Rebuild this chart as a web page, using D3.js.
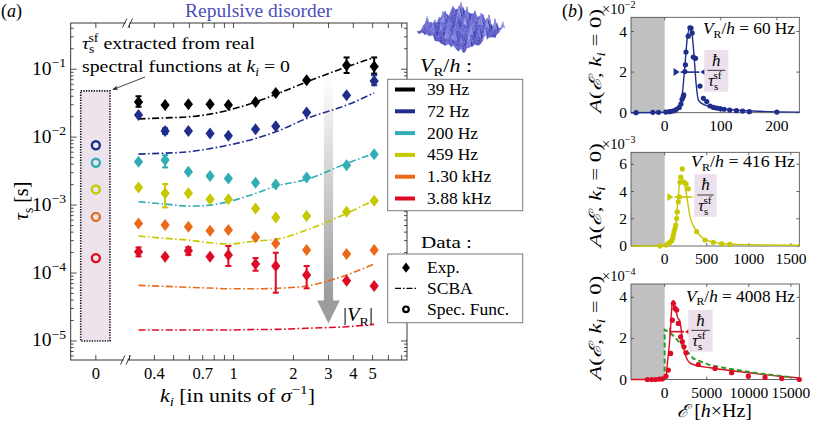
<!DOCTYPE html>
<html><head><meta charset="utf-8">
<script src="https://cdn.jsdelivr.net/npm/d3@7"></script>
<style>
html,body{margin:0;padding:0;background:#fff;}
svg{display:block;font-family:"Liberation Serif","DejaVu Serif",serif;}
</style></head><body>
<svg id="fig" width="814" height="424"></svg>
<script>
/* panel (a): scattering time vs k_i for six disorder strengths */
const kVals = [0.333, 0.453, 0.593, 0.762, 0.942, 1.29, 1.63, 2.33, 3.70, 5.09];
const vrLabels = ["39 Hz", "72 Hz", "200 Hz", "459 Hz", "1.30 kHz", "3.88 kHz"];
const vrColors = ["#000000", "#1f2e8c", "#33adb5", "#c6c800", "#ea6a1a", "#de0b24"];

const expTau39  = [0.033, 0.0296, 0.0305, 0.0305, 0.0296, 0.033, 0.0448, 0.069, 0.114, 0.110];
const expTau72  = [0.0211, 0.0123, 0.0123, 0.0113, 0.0105, 0.0131, 0.0145, 0.0231, 0.0415, 0.0673];
const expTau200 = [4.33e-3, 4.59e-3, 3.09e-3, 2.67e-3, 2.47e-3, 2.13e-3, 2.01e-3, 2.55e-3, 3.87e-3, 5.62e-3];
const expTau459 = [1.82e-3, 1.49e-3, 1.49e-3, 1.22e-3, 1.22e-3, 8.93e-4, 6.59e-4, 6.89e-4, 7.96e-4, 1.16e-3];
const expTau1300 = [5.38e-4, 5.08e-4, 4.8e-4, 4.19e-4, 4.29e-4, 3.35e-4, 2.73e-4, 2.18e-4, 1.9e-4, 2.18e-4];
const expTau3880 = [2.06e-4, 1.74e-4, 2.13e-4, 1.74e-4, 1.84e-4, 1.36e-4, 1.27e-4, 9.35e-5, 7.71e-5, 6.44e-5];

// error bars [low, high], null where hidden by the marker
const expErr39  = [[0.028, 0.040], null, null, null, null, null, null, null, [0.088, 0.149], [0.086, 0.149]];
const expErr72  = [null, [0.0112, 0.0135], null, null, null, null, null, null, null, [0.0582, 0.0816]];
const expErr200 = [null, [3.58e-3, 5.43e-3], null, null, null, null, null, null, null, null];
const expErr459 = [null, [9.25e-4, 2.04e-3], null, null, null, null, null, null, null, null];
const expErr1300 = [null, null, null, null, null, null, null, null, null, null];
const expErr3880 = [[1.76e-4, 2.38e-4], null, [1.85e-4, 2.4e-4], null, [1.27e-4, 2.5e-4], [1.08e-4, 1.66e-4], [5.13e-5, 1.99e-4], [5.96e-5, 1.27e-4], null, null];

const scbaTau39  = [0.0186, 0.0192, 0.0199, 0.0218, 0.0249, 0.0330, 0.0425, 0.0650, 0.108, 0.149];
const scbaTau72  = [5.62e-3, 5.82e-3, 6.08e-3, 6.78e-3, 7.62e-3, 9.57e-3, 0.01197, 0.01884, 0.0296, 0.0448];
const scbaTau200 = [1.12e-3, 1.035e-3, 9.66e-4, 1.0e-3, 1.12e-3, 1.486e-3, 1.90e-3, 2.39e-3, 4.10e-3, 5.75e-3];
const scbaTau459 = [3.5e-4, 3.24e-4, 3.05e-4, 2.79e-4, 2.67e-4, 2.96e-4, 3.13e-4, 4.29e-4, 7.55e-4, 1.186e-3];
const scbaTau1300 = [6.59e-5, 6.37e-5, 6.16e-5, 6.01e-5, 5.87e-5, 5.87e-5, 5.96e-5, 6.44e-5, 9.35e-5, 1.355e-4];
const scbaTau3880 = [1.45e-5, 1.45e-5, 1.45e-5, 1.45e-5, 1.45e-5, 1.476e-5, 1.48e-5, 1.54e-5, 1.62e-5, 1.76e-5];

// tau_s^sf from the spectral functions at k_i = 0
const specTau = [null, 7.6e-3, 4.2e-3, 1.7e-3, 6.7e-4, 1.66e-4];

const yTicksA = [1e-5, 1e-4, 1e-3, 1e-2, 1e-1];
const xTicksA = [0.3, 0.4, 0.5, 0.6, 0.7, 0.8, 0.9, 1, 2, 3, 4, 5, 6, 7];
const xTickLabelsA = [0.4, 0.7, 1, 2, 3, 4, 5];

/* panel (b): spectral functions A(E, k_i=0) */
const b1CurveE = [-60, 0, 21, 30, 36, 40, 44, 48, 52, 56, 60, 66, 81, 110, 170, 240];
const b1CurveA = [0, 0.02, 0.13, 0.63, 2.28, 3.6, 4.13, 4.0, 2.94, 1.45, 0.63, 0.46, 0.3, 0.17, 0.07, 0.03];
const b1DotE = [-51, -21, -11, 2, 8, 12, 17, 21, 26, 29, 31, 33, 34, 36, 37, 38, 42, 45, 47, 49, 51, 55, 63, 69, 75, 81, 87, 93, 99, 106, 116, 128, 139, 151, 200];
const b1DotA = [0, 0.02, 0.02, 0.03, 0.05, 0.07, 0.1, 0.17, 0.26, 0.43, 0.66, 0.79, 0.88, 2.03, 2.36, 2.99, 3.77, 4.18, 4.17, 3.93, 2.74, 2.68, 1.31, 0.71, 0.55, 0.33, 0.26, 0.23, 0.2, 0.17, 0.13, 0.1, 0.08, 0.05, 0.03];

const b2CurveE = [-400, -55, 44, 83, 123, 150, 174, 194, 222, 254, 301, 360, 459, 658, 1133, 1600];
const b2CurveA = [0, 0, 0.07, 0.37, 1.05, 2.76, 4.46, 5.15, 4.83, 3.98, 2.15, 1.29, 0.56, 0.2, 0.07, 0.05];
const b2DotE = [-55, 16, 44, 63, 83, 95, 103, 111, 123, 131, 143, 150, 162, 174, 182, 190, 210, 230, 254, 281, 380, 479, 578, 677, 776];
const b2DotA = [0, 0.07, 0.2, 0.27, 0.37, 0.56, 0.8, 1.05, 1.29, 1.54, 2.02, 2.5, 3.24, 3.6, 4.68, 5.05, 5.66, 4.68, 4.56, 4.2, 1.05, 0.44, 0.27, 0.15, 0.12];

const b3CurveE = [-4000, -160, 160, 240, 634, 911, 1030, 1228, 1505, 1822, 2218, 2614, 3010, 3406, 5387, 7368, 11329, 16000];
const b3CurveA = [0, 0, 0.13, 0.46, 2.08, 3.74, 3.85, 3.58, 3.06, 2.81, 1.59, 1.02, 0.81, 0.73, 0.57, 0.46, 0.26, 0.07];
const b3DotE = [-2060, -1545, -1070, -634, -277, 159, 436, 713, 911, 1030, 1228, 1426, 1624, 1901, 2099, 2297, 2535, 4000, 5981, 7962, 9943, 11924, 13905, 16000];
const b3DotA = [0, 0, 0, 0.02, 0.03, 0.16, 0.46, 1.27, 2.89, 3.71, 3.46, 3.38, 2.73, 2.08, 1.84, 1.59, 1.3, 0.73, 0.54, 0.33, 0.16, 0.1, 0.05, 0];
const b3ScbaE = [0, 0, 600, 1230, 2218, 3406, 5387, 7368, 11329, 15291];
const b3ScbaA = [0, 2.42, 2.3, 2.05, 1.59, 1.02, 0.7, 0.54, 0.29, 0.1];

const svg = d3.select("#fig");

// text with italic / sub / sup pieces: [text, kind, dx]
function rich(sel, parts, size) {
  let shift = 0;
  parts.forEach(([t, k, dx]) => {
    const ts = sel.append("tspan").text(t);
    let target = 0, fs = size;
    if (k.includes("sub")) { target = size * 0.24; fs = size * 0.68; }
    if (k.includes("sup")) { target = -size * 0.42; fs = size * 0.7; }
    if (k.startsWith("i")) ts.attr("font-style", "italic");
    ts.attr("font-size", fs).attr("dy", target - shift);
    if (dx) ts.attr("dx", dx);
    shift = target;
  });
  return sel;
}
// stretch a text to the width seen in the reference (its font is wider)
const fit = (sel, w) => sel.attr("textLength", w).attr("lengthAdjust", "spacingAndGlyphs");
const tauSf = (s) => [["τ", "i"], ["s", "sub"], ["sf", "sup", -s * 0.3]];

/* ---------------- panel (a) ---------------- */
const A = { l: 70.7, r: 407, t: 23, b: 360 };
const y = d3.scaleLog().domain([10 ** -5.28, 10 ** -0.32]).range([A.b, A.t]);
const xk = d3.scaleLog().domain([0.3, 7.4]).range([129.5, 406.5]);
const x0 = d3.scalePoint().domain(["0"]).range([A.l, 121]).padding(0.5);

svg.append("text").attr("x", 1).attr("y", 17).attr("font-size", 18)
  .call(s => rich(s, [["(", ""], ["a", "i"], [")", ""]], 18));
svg.append("text").attr("x", 185).attr("y", 17).attr("font-size", 18).attr("fill", "#4b50b8")
  .text("Repulsive disorder").call(fit, 147);

const gA = svg.append("g");

// pink box for spectral-function values
gA.append("rect").attr("x", 80.7).attr("width", 29.3)
  .attr("y", y(0.048)).attr("height", y(1e-5) - y(0.048))
  .attr("fill", "#ede3ed").attr("stroke", "#111").attr("stroke-width", 1.6)
  .attr("stroke-dasharray", "1.3,1.3");

// grey arrow |V_R|
const defs = svg.append("defs");
const gr = defs.append("linearGradient").attr("id", "garr").attr("x1", 0).attr("x2", 0).attr("y1", 0).attr("y2", 1);
gr.append("stop").attr("offset", 0).attr("stop-color", "#fff");
gr.append("stop").attr("offset", 1).attr("stop-color", "#9a9a9a");
const ax = xk(3);
gA.append("rect").attr("x", ax - 4.6).attr("width", 9.2).attr("y", 77).attr("height", 224)
  .attr("fill", "url(#garr)");
gA.append("path").attr("d", `M${ax - 11.3},300.5 L${ax + 11.3},300.5 L${ax},323.5Z`).attr("fill", "#9c9c9c");
gA.append("text").attr("x", 343).attr("y", 321).attr("font-size", 19)
  .call(s => rich(s, [["|", ""], ["V", "i"], ["R", "sub"], ["|", ""]], 19)).call(fit, 30);

// frame
gA.append("rect").attr("x", A.l).attr("y", A.t).attr("width", A.r - A.l).attr("height", A.b - A.t)
  .attr("fill", "none").attr("stroke", "#222").attr("stroke-width", 0.9);

// y ticks (log, inward, both sides)
const minorY = [];
yTicksA.forEach(d => { for (let m = 2; m <= 9; m++) minorY.push(d * m); });
minorY.push(6e-6, 7e-6, 8e-6, 9e-6);
const yTickSel = gA.append("g").attr("stroke", "#222").attr("stroke-width", 0.8);
yTicksA.forEach(d => {
  yTickSel.append("line").attr("x1", A.l).attr("x2", A.l + 6).attr("y1", y(d)).attr("y2", y(d));
  yTickSel.append("line").attr("x1", A.r).attr("x2", A.r - 6).attr("y1", y(d)).attr("y2", y(d));
});
minorY.filter(d => y(d) > A.t && y(d) < A.b).forEach(d => {
  yTickSel.append("line").attr("x1", A.l).attr("x2", A.l + 3).attr("y1", y(d)).attr("y2", y(d));
  yTickSel.append("line").attr("x1", A.r).attr("x2", A.r - 3).attr("y1", y(d)).attr("y2", y(d));
});
yTicksA.forEach(d => {
  const e = Math.round(Math.log10(d));
  gA.append("text").attr("x", 32).attr("y", y(d) + 5.5).attr("font-size", 18)
    .call(s => rich(s, [["10", ""], ["−" + (-e), "sup"]], 18)).call(fit, 34);
});

// x ticks
const xtPos = xTicksA.map(k => xk(k)).concat([x0("0")]);
xtPos.forEach(px => {
  yTickSel.append("line").attr("x1", px).attr("x2", px).attr("y1", A.b).attr("y2", A.b - 5);
  yTickSel.append("line").attr("x1", px).attr("x2", px).attr("y1", A.t).attr("y2", A.t + 5);
});
xTickLabelsA.forEach(k => {
  gA.append("text").attr("x", xk(k)).attr("y", 379).attr("text-anchor", "middle").attr("font-size", 16.5).text(k);
});
gA.append("text").attr("x", x0("0")).attr("y", 379).attr("text-anchor", "middle").attr("font-size", 16.5).text("0");

// axis break marks
[[A.t, 127.5], [A.b, 125.5]].forEach(([yy, xc]) => {
  gA.append("rect").attr("x", xc - 2).attr("y", yy - 1.5).attr("width", 4).attr("height", 3).attr("fill", "#fff");
  [-2.8, 2.8].forEach(o => gA.append("line")
    .attr("x1", xc + o - 2.2).attr("y1", yy + 4.5).attr("x2", xc + o + 2.2).attr("y2", yy - 4.5)
    .attr("stroke", "#222").attr("stroke-width", 0.9));
});

// axis labels
svg.append("text").attr("transform", "translate(28,201) rotate(-90)").attr("text-anchor", "middle")
  .attr("font-size", 20).call(s => rich(s, [["τ", "i"], ["s", "sub"], [" [s]", ""]], 20));
svg.append("text").attr("x", 160).attr("y", 402).attr("font-size", 18)
  .call(s => rich(s, [["k", "i"], ["i", "isub"], [" [in units of ", ""], ["σ", "i"], ["−1", "sup"], ["]", ""]], 18))
  .call(fit, 155);

// SCBA curves
const series = [
  [expTau39, expErr39, scbaTau39], [expTau72, expErr72, scbaTau72], [expTau200, expErr200, scbaTau200],
  [expTau459, expErr459, scbaTau459], [expTau1300, expErr1300, scbaTau1300], [expTau3880, expErr3880, scbaTau3880]
];
const lineA = d3.line().x(d => xk(d[0])).y(d => y(d[1])).curve(d3.curveMonotoneX);
series.forEach(([, , sc], i) => {
  gA.append("path").attr("d", lineA(kVals.map((k, j) => [k, sc[j]])))
    .attr("fill", "none").attr("stroke", vrColors[i]).attr("stroke-width", 1.6)
    .attr("stroke-dasharray", "7,2.5,1.6,2.5");
});

// experimental points with error bars
const diamond = "M0,-6 L4.6,0 L0,6 L-4.6,0Z";
series.forEach(([ex, er], i) => {
  const g = gA.append("g").attr("fill", vrColors[i]).attr("stroke", vrColors[i]);
  ex.forEach((v, j) => {
    const px = xk(kVals[j]);
    if (er[j]) {
      const [lo, hi] = er[j];
      g.append("line").attr("x1", px).attr("x2", px).attr("y1", y(lo)).attr("y2", y(hi)).attr("stroke-width", 2);
      [lo, hi].forEach(t => g.append("line").attr("x1", px - 3).attr("x2", px + 3)
        .attr("y1", y(t)).attr("y2", y(t)).attr("stroke-width", 2));
    }
    g.append("path").attr("d", diamond).attr("transform", `translate(${px},${y(v)})`).attr("stroke", "none");
  });
});

// spectral function circles at k_i = 0
specTau.forEach((v, i) => {
  if (v == null) return;
  gA.append("circle").attr("cx", x0("0")).attr("cy", y(v)).attr("r", 4)
    .attr("fill", "none").attr("stroke", vrColors[i]).attr("stroke-width", 2.4);
});

// annotation
defs.append("marker").attr("id", "ah").attr("viewBox", "0 0 10 10").attr("refX", 9).attr("refY", 5)
  .attr("markerWidth", 7).attr("markerHeight", 7).attr("orient", "auto")
  .append("path").attr("d", "M0,1 L10,5 L0,9 L3,5Z").attr("fill", "#111");
gA.append("line").attr("x1", 145).attr("y1", 77).attr("x2", 113).attr("y2", 89.5)
  .attr("stroke", "#111").attr("stroke-width", 0.8).attr("marker-end", "url(#ah)");
gA.append("text").attr("x", 82).attr("y", 49).attr("font-size", 17.5)
  .call(s => rich(s, [...tauSf(17.5), [" extracted from real", "", 0]], 17.5)).call(fit, 173);
gA.append("text").attr("x", 82).attr("y", 71.5).attr("font-size", 17.5)
  .call(s => rich(s, [["spectral functions at ", ""], ["k", "i"], ["i", "isub"], [" = 0", ""]], 17.5)).call(fit, 208);

// surface picture (decorative)
(function surface() {
  const g = svg.append("g");
  const N = 22, sx = 44 / N, sy = 22 / N, cx = 461, cy = 11;
  const h = (i, j) => {
    const v = 2.2 + 1.6 * Math.sin(i * 1.9 + j * 0.7) * Math.cos(j * 2.3 - i * 0.4)
      + 1.4 * Math.sin(i * 0.55 + 1.3) * Math.sin(j * 0.8 + 0.4)
      + 3.2 * Math.max(0, Math.sin(i * 3.1 + j * 2.7) * Math.sin(i * 1.3 - j * 2.1) - 0.5) * 6;
    return Math.max(0, v);
  };
  const P = (i, j) => [cx + (i - j) * sx, cy + (i + j) * sy - h(i, j) * 1.2];
  const col = d3.scaleLinear().domain([0, 3, 9]).range(["#3d3daa", "#5c5ccc", "#a4a4ec"]);
  for (let s = 0; s <= 2 * (N - 1); s++) {
    for (let i = 0; i < N; i++) {
      const j = s - i;
      if (j < 0 || j >= N) continue;
      const pts = [P(i, j), P(i + 1, j), P(i + 1, j + 1), P(i, j + 1)];
      const hh = (h(i, j) + h(i + 1, j + 1)) / 2;
      g.append("path").attr("d", "M" + pts.join("L") + "Z").attr("fill", col(hh + (h(i + 1, j) - h(i, j + 1)) * 0.4))
        .attr("stroke", col(hh)).attr("stroke-width", 0.2);
    }
  }
})();

// legends
const L = svg.append("g");
L.append("text").attr("x", 420).attr("y", 72).attr("font-size", 18)
  .call(s => rich(s, [["V", "i"], ["R", "sub"], ["/", ""], ["h", "i"], [" :", ""]], 18)).call(fit, 52);
L.append("rect").attr("x", 387.7).attr("y", 79.3).attr("width", 135).attr("height", 131.4)
  .attr("fill", "#fff").attr("stroke", "#777").attr("stroke-width", 1);
vrLabels.forEach((lab, i) => {
  const yy = 89.5 + i * 21.8;
  L.append("line").attr("x1", 395).attr("x2", 415).attr("y1", yy).attr("y2", yy)
    .attr("stroke", vrColors[i]).attr("stroke-width", 4);
  L.append("text").attr("x", 427).attr("y", yy + 5.5).attr("font-size", 17.5).text(lab);
});
L.append("text").attr("x", 421).attr("y", 248).attr("font-size", 17.5).text("Data :").call(fit, 51);
L.append("rect").attr("x", 387.7).attr("y", 254).attr("width", 135).attr("height", 68.7)
  .attr("fill", "#fff").attr("stroke", "#777").attr("stroke-width", 1);
L.append("path").attr("d", diamond).attr("transform", "translate(406,267.7) scale(0.85)").attr("fill", "#000");
L.append("line").attr("x1", 395).attr("x2", 416).attr("y1", 288.3).attr("y2", 288.3)
  .attr("stroke", "#000").attr("stroke-width", 1.3).attr("stroke-dasharray", "6,2,1.5,2");
L.append("circle").attr("cx", 406).attr("cy", 309.3).attr("r", 2.8).attr("fill", "none")
  .attr("stroke", "#000").attr("stroke-width", 2.2);
["Exp.", "SCBA", "Spec. Func."].forEach((t, i) => {
  L.append("text").attr("x", 427).attr("y", 273 + i * 20.8).attr("font-size", 17.5).text(t);
});

/* ---------------- panel (b) ---------------- */
svg.append("text").attr("x", 562).attr("y", 17).attr("font-size", 18)
  .call(s => rich(s, [["(", ""], ["b", "i"], [")", ""]], 18));

const subs = [
  { top: 17.3, bot: 112.7, xd: [-60, 240], yd: [0, 4.7], xt: [0, 100, 200], yt: [0, 2, 4], exp: "−2",
    color: "#1f2e8c", ce: b1CurveE, ca: b1CurveA, de: b1DotE, da: b1DotA, vr: "60", vrW: 92, vrY: 17,
    err: [2.0, 28.5, 61.8, true], box: [704.3, 50, 24, 41.7] },
  { top: 152.3, bot: 246, xd: [-400, 1600], yd: [0, 6.88], xt: [0, 500, 1000, 1500], yt: [0, 2, 4, 6], exp: "−3",
    color: "#c6c800", ce: b2CurveE, ca: b2CurveA, de: b2DotE, da: b2DotA, vr: "416", vrW: 104, vrY: 14.5,
    err: [3.6, 115, 329, true], box: [694.3, 174.3, 22.4, 42.4] },
  { top: 284, bot: 379.5, xd: [-4000, 16000], yd: [0, 4.65], xt: [0, 5000, 10000, 15000], yt: [0, 2, 4], exp: "−4",
    color: "#de0b24", ce: b3CurveE, ca: b3CurveA, de: b3DotE, da: b3DotA, vr: "4008", vrW: 109, vrY: 17.5,
    err: [2.33, 634, 2297, false], box: [688.3, 310, 24.4, 41.7], scba: [b3ScbaE, b3ScbaA] }
];
const BL = 631, BR = 799.3;
subs.forEach(c => {
  const g = svg.append("g");
  const x = d3.scaleLinear().domain(c.xd).range([BL, BR]);
  const yy = d3.scaleLinear().domain(c.yd).range([c.bot, c.top]);
  g.append("rect").attr("x", BL).attr("y", c.top).attr("width", x(0) - BL).attr("height", c.bot - c.top).attr("fill", "#c0c0c0");
  g.append("rect").attr("x", BL).attr("y", c.top).attr("width", BR - BL).attr("height", c.bot - c.top)
    .attr("fill", "none").attr("stroke", "#444").attr("stroke-width", 0.8);
  const tk = g.append("g").attr("stroke", "#444").attr("stroke-width", 0.8);
  c.xt.forEach(v => {
    tk.append("line").attr("x1", x(v)).attr("x2", x(v)).attr("y1", c.bot).attr("y2", c.bot - 3);
    tk.append("line").attr("x1", x(v)).attr("x2", x(v)).attr("y1", c.top).attr("y2", c.top + 3);
    g.append("text").attr("x", x(v)).attr("y", c.bot + 18).attr("text-anchor", "middle").attr("font-size", 15.5).text(v);
  });
  c.yt.forEach(v => {
    tk.append("line").attr("x1", BL).attr("x2", BL + 3).attr("y1", yy(v)).attr("y2", yy(v));
    tk.append("line").attr("x1", BR).attr("x2", BR - 3).attr("y1", yy(v)).attr("y2", yy(v));
    g.append("text").attr("x", 627).attr("y", yy(v) + 5).attr("text-anchor", "end").attr("font-size", 15.5).text(v);
  });
  g.append("text").attr("x", 602).attr("y", c.top - 3).attr("font-size", 14.5)
    .call(s => rich(s, [["×10", ""], [c.exp, "sup"]], 14.5));
  g.append("text").attr("transform", `translate(601,${(c.top + c.bot) / 2 + 48}) rotate(-90)`)
    .attr("font-size", 17)
    .call(s => rich(s, [["A", "i"], ["(", ""], ["ℰ", "i"], [", ", ""], ["k", "i"], ["i", "isub"], [" = 0)", ""]], 17))
    .call(fit, 104);
  g.append("text").attr("x", 795 - c.vrW).attr("y", c.top + c.vrY).attr("font-size", 16.5)
    .call(s => rich(s, [["V", "i"], ["R", "sub"], ["/", ""], ["h", "i"], [" = " + c.vr + " Hz", ""]], 16.5))
    .call(fit, c.vrW);

  const pts = c.ce.map((e, i) => [x(e), yy(c.ca[i])]);
  g.append("path").attr("d", d3.line().curve(d3.curveMonotoneX)(pts))
    .attr("fill", "none").attr("stroke", c.color).attr("stroke-width", 1.4);
  if (c.scba) {
    const sp = c.scba[0].map((e, i) => [x(e), yy(c.scba[1][i])]);
    g.append("path").attr("d", d3.line()(sp)).attr("fill", "none").attr("stroke", "#2e9a2e")
      .attr("stroke-width", 2).attr("stroke-dasharray", "5,3");
  }
  c.de.forEach((e, i) => g.append("circle").attr("cx", x(e)).attr("cy", yy(c.da[i])).attr("r", 2.6).attr("fill", c.color));

  // width bar hbar/tau
  const [ea, e0, e1, both] = c.err;
  const ey = yy(ea);
  g.append("line").attr("x1", x(e0)).attr("x2", x(e1)).attr("y1", ey).attr("y2", ey)
    .attr("stroke", c.color).attr("stroke-width", 1.6);
  g.append("path").attr("d", `M${x(e1) + 1},${ey} l6,-4 l0,8Z`).attr("fill", c.color);
  if (both) g.append("path").attr("d", `M${x(e0) - 1},${ey} l-6,-4 l0,8Z`).attr("fill", c.color);
  else g.append("line").attr("x1", x(e0)).attr("x2", x(e0)).attr("y1", ey - 4).attr("y2", ey + 4).attr("stroke", c.color).attr("stroke-width", 1.2);

  const [bx, by, bw, bh] = c.box;
  g.append("rect").attr("x", bx).attr("y", by).attr("width", bw).attr("height", bh).attr("fill", "#ece0ec");
  g.append("text").attr("x", bx + bw / 2).attr("y", by + 15.5).attr("text-anchor", "middle").attr("font-size", 17)
    .attr("font-style", "italic").text("ħ");
  g.append("line").attr("x1", bx + 3).attr("x2", bx + bw - 3).attr("y1", by + bh / 2 - 0.5).attr("y2", by + bh / 2 - 0.5)
    .attr("stroke", "#111").attr("stroke-width", 0.8);
  g.append("text").attr("x", bx + 4).attr("y", by + bh - 6).attr("font-size", 16)
    .call(s => rich(s, tauSf(16), 16));
});
svg.append("text").attr("x", 677).attr("y", 417).attr("font-size", 18)
  .call(s => rich(s, [["ℰ", "i"], [" [", ""], ["h", "i"], ["×Hz]", ""]], 18)).call(fit, 75);
</script></body></html>
